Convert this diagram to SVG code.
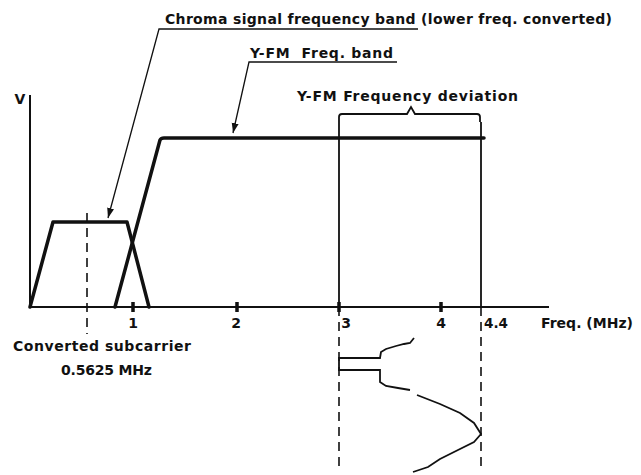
<svg xmlns="http://www.w3.org/2000/svg" width="641" height="475" viewBox="0 0 641 475">
<style>
text{font-family:"DejaVu Sans","Liberation Sans",sans-serif;font-size:14px;font-weight:bold;fill:#111}
.thick{fill:none;stroke:#111;stroke-width:3.5;stroke-linejoin:round;stroke-linecap:round}
.axis{fill:none;stroke:#111;stroke-width:2}
.thin{fill:none;stroke:#111;stroke-width:1.8}
.dash{fill:none;stroke:#111;stroke-width:1.6;stroke-dasharray:9 6}
.lead{fill:none;stroke:#111;stroke-width:1.3}
.tick{stroke:#111;stroke-width:3.5}
</style>
<defs>
<marker id="arr" viewBox="0 0 10 10" refX="10" refY="5" markerWidth="10" markerHeight="10" markerUnits="userSpaceOnUse" orient="auto">
<path d="M0,1.5 L10,5 L0,8.5 Z" fill="#111"/>
</marker>
</defs>
<rect width="641" height="475" fill="#fff"/>
<g id="axes">
<path class="axis" d="M30,95 V307 H549"/>
<path class="tick" d="M133,302 V312 M237,302 V312 M339,302 V312 M441,302 V312"/>
<text x="20" y="104" text-anchor="middle">V</text>
<text x="133" y="328" text-anchor="middle">1</text>
<text x="236" y="328" text-anchor="middle">2</text>
<text x="346" y="328" text-anchor="middle">3</text>
<text x="441" y="328" text-anchor="middle">4</text>
<text x="484" y="328" textLength="24" lengthAdjust="spacingAndGlyphs">4.4</text>
<text x="541" y="328" textLength="92" lengthAdjust="spacing">Freq. (MHz)</text>
</g>
<g id="chroma-band">
<path class="thick" d="M30,307 L53,222 H127 L149,307"/>
</g>
<g id="yfm-band">
<path class="thick" d="M115,307 L160,140 Q161,138 164,138 H484"/>
</g>
<g id="subcarrier">
<path class="dash" d="M87,213 V334"/>
<text x="13" y="351" textLength="178" lengthAdjust="spacing">Converted subcarrier</text>
<text x="61" y="375" textLength="91" lengthAdjust="spacing">0.5625 MHz</text>
</g>
<g id="deviation">
<path class="thin" d="M339,122 V307 M481,122 V307"/>
<path class="dash" d="M339,307 V470 M481,307 V470"/>
<path class="thin" d="M339,122 V117 Q339,114 342,114 H407 L411,107 L415,114 H477 Q480,114 480,117 V122"/>
<text x="297" y="101" textLength="221" lengthAdjust="spacing">Y-FM Frequency deviation</text>
</g>
<g id="spectrum">
<path class="thin" d="M414,338 L410,343 L404,344 L396,346 L386,349 L381,352 L380,358 H339 V370 H380 V382 L386,386 L398,388 L410,390"/>
<path class="thin" d="M417,395 L440,404 L460,413 L474,423 L481,434 L474,442 L456,451 L440,459 L428,467 L413,472"/>
</g>
<g id="chroma-label">
<text x="165" y="24" textLength="447" lengthAdjust="spacing">Chroma signal frequency band (lower freq. converted)</text>
</g>
<g id="yfm-label">
<text x="250" y="58" textLength="143" lengthAdjust="spacing">Y-FM&#160; Freq. band</text>
</g>
<g id="connectors">
<path class="lead" d="M418,29 H159 L108,218" marker-end="url(#arr)"/>
<path class="lead" d="M397,62 H249 L233,133" marker-end="url(#arr)"/>
</g>
</svg>
